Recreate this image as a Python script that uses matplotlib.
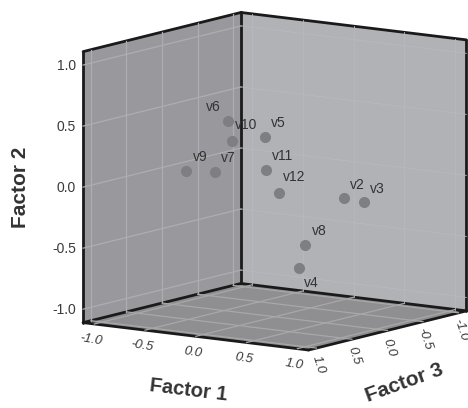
import matplotlib
matplotlib.use("Agg")
import matplotlib.pyplot as plt
import numpy as np
from mpl_toolkits.mplot3d import proj3d
from mpl_toolkits.mplot3d.art3d import Poly3DCollection

plt.rcParams['font.family'] = ['Liberation Sans', 'DejaVu Sans']

names = ['v2', 'v3', 'v4', 'v5', 'v6', 'v7', 'v8', 'v9', 'v10', 'v11', 'v12']
factor1 = [0.61, 0.77, 0.41, 0.25, -0.04, -0.03, 0.44, -0.24, 0.03, 0.23, 0.29]
factor2 = [-0.09, -0.11, -0.63, 0.46, 0.58, 0.19, -0.45, 0.19, 0.43, 0.18, -0.02]
factor3 = [-0.10, -0.15, 0.25, 0.50, 0.60, 0.80, 0.20, 0.90, 0.65, 0.45, 0.35]
ticks = [-1.0, -0.5, 0.0, 0.5, 1.0]

# label offsets from the point, pixels
label_dx = [14, 14, 13, 14, -15, 13, 14, 14, 15, 16, 15]
label_dy = [13, 13, -15, 14, 14, 14, 14, 14, 16, 14, 16]

L = 1.11
W, H = 468, 408

fig = plt.figure(figsize=(W / 100, H / 100), dpi=100, facecolor='white')
ax = fig.add_axes([0, 0, 1, 1], projection='3d')
ax.set_proj_type('ortho')
ax.view_init(elev=10, azim=-55)
ax.set_box_aspect((1, 1, 1))
ax.computed_zorder = False
ax.set_axis_off()
ax.set_xlim(-L, L, view_margin=0)
ax.set_ylim(L, -L, view_margin=0)
ax.set_zlim(-L, L, view_margin=0)


def place(size):
    ax.set_position([(268.5 - size / 2) / W, (220.5 - size / 2) / H, size / W, size / H])
    ax.apply_aspect()


def to2d(x, y, z):
    u, v, _ = proj3d.proj_transform(x, y, z, ax.get_proj())
    return u, v


# scale the axes so the vertical edge is 271 px tall
place(400)
a = ax.transData.transform(to2d(-L, L, -L))
b = ax.transData.transform(to2d(-L, L, L))
place(400 * 271 / abs(b[1] - a[1]))

# walls and floor
left = [(-L, L, -L), (-L, -L, -L), (-L, -L, L), (-L, L, L)]
right = [(-L, -L, -L), (L, -L, -L), (L, -L, L), (-L, -L, L)]
floor = [(-L, L, -L), (L, L, -L), (L, -L, -L), (-L, -L, -L)]
for verts, col in [(left, '#99999d'), (right, '#b1b2b6'), (floor, '#8f8f92')]:
    ax.add_collection3d(Poly3DCollection([verts], facecolors=col, edgecolors='none', zorder=1))

# box edges
edges = [
    ((-L, -L), (L, L), (-L, L)),
    ((-L, -L), (-L, -L), (-L, L)),
    ((L, L), (-L, -L), (-L, L)),
    ((-L, -L), (L, -L), (L, L)),
    ((-L, L), (-L, -L), (L, L)),
    ((-L, -L), (L, -L), (-L, -L)),
    ((-L, L), (-L, -L), (-L, -L)),
    ((-L, L), (L, L), (-L, -L)),
    ((L, L), (L, -L), (-L, -L)),
]
for ex, ey, ez in edges:
    ax.plot(ex, ey, ez, color='#1a1a1a', lw=2.0, zorder=2, solid_capstyle='round')

# grid
for t in ticks:
    ax.plot([-L, -L], [t, t], [-L, L], color='#aeaeb1', lw=0.9, zorder=3)
    ax.plot([-L, -L], [-L, L], [t, t], color='#aeaeb1', lw=0.9, zorder=3)
    ax.plot([t, t], [-L, -L], [-L, L], color='#b8b9bc', lw=0.6, zorder=3)
    ax.plot([-L, L], [-L, -L], [t, t], color='#b8b9bc', lw=0.6, zorder=3)
    ax.plot([t, t], [-L, L], [-L, -L], color='#a8a8aa', lw=0.9, zorder=3)
    ax.plot([-L, L], [t, t], [-L, -L], color='#a8a8aa', lw=0.9, zorder=3)

ax.scatter(factor1, factor3, factor2, s=64, c='#7f7f83', linewidths=0, depthshade=False, zorder=4)


def note(x, y, z, s, dx, dy, **kw):
    ax.annotate(s, to2d(x, y, z), xytext=(dx, dy), textcoords='offset pixels',
                ha=kw.pop('ha', 'center'), va='center', annotation_clip=False, zorder=5, **kw)


for n, a1, a2, a3, dx, dy in zip(names, factor1, factor2, factor3, label_dx, label_dy):
    note(a1, a3, a2, n, dx, dy, fontsize=10, color='#333333')

for t in ticks:
    note(-L, L, t, f'{t:.1f}', -7, -1, ha='right', fontsize=10, color='#3a3a3a')
    note(t, L, -L, f'{t:.1f}', -3, -16, fontsize=9.5, color='#3a3a3a', style='italic', rotation=-9)
    note(L, t, -L, f'{t:.1f}', 2, -17, fontsize=9.5, color='#3a3a3a', style='italic', rotation=-72)

fig.text(188 / W, 1 - 390 / H, 'Factor 1', fontsize=14.5, fontweight='bold', color='#333333',
         rotation=-7, ha='center', va='center')
fig.text(20 / W, 1 - 187 / H, 'Factor 2', fontsize=15, fontweight='bold', color='#333333',
         rotation=90, ha='center', va='center')
fig.text(404 / W, 1 - 383 / H, 'Factor 3', fontsize=15, fontweight='bold', color='#333333',
         rotation=20, ha='center', va='center')

fig.savefig('out.png', dpi=100)
